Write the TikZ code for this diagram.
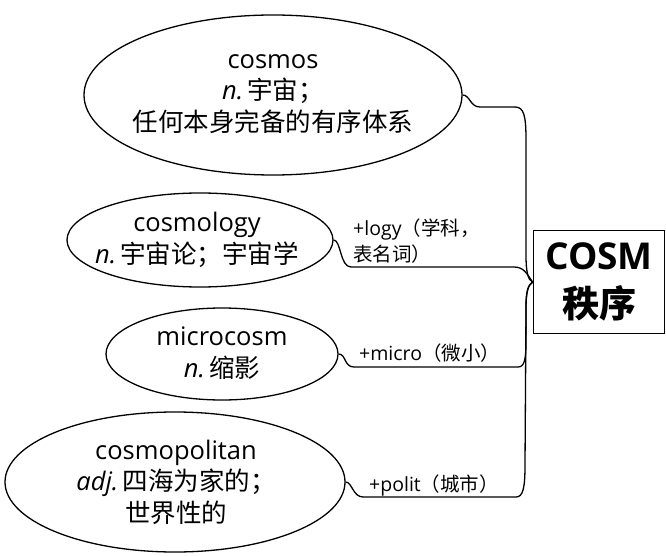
\documentclass[tikz,border=0pt]{standalone}
\usepackage{fontspec}
\usetikzlibrary{shapes.geometric}
\setmainfont{Open Sans}
\newfontfamily\cjk{Noto Sans CJK SC}
\tikzset{
  x=1pt, y=-1pt,
  ell/.style={draw, ellipse, line width=1.3pt, inner sep=0pt},
  txt/.style={align=center, inner sep=0pt, font=\fontsize{25.5}{31.5}\selectfont},
  lbl/.style={anchor=west, inner sep=0pt, font=\fontsize{19.5}{26}\selectfont, align=left},
  conn/.style={draw, line width=1.3pt},
  boxst/.style={draw, line width=1.8pt, rectangle, inner sep=0pt, minimum width=131pt, minimum height=103pt, align=center, font=\fontsize{37}{50}\selectfont\bfseries}
}
\begin{document}
\begin{tikzpicture}
\useasboundingbox (0,0) rectangle (666,556);
% central box
\node[boxst] (b) at (599,282) {COSM\\[-2pt]{\cjk 秩序}};
% ellipses
\node[ell, minimum width=378pt, minimum height=160pt] (e1) at (273,95) {};
\node[txt] (t1) at (273,94) {cosmos\\\textit{n.}\,{\cjk 宇宙；}\\{\cjk 任何本身完备的有序体系}};
\node[ell, minimum width=266pt, minimum height=94pt] (e2) at (200,240) {};
\node[txt] (t2) at (197,240) {cosmology\\\textit{n.}\,{\cjk 宇宙论；宇宙学}};
\node[ell, minimum width=232pt, minimum height=92pt] (e3) at (222,354) {};
\node[txt] (t3) at (222,353) {microcosm\\\textit{n.}\,{\cjk 缩影}};
\node[ell, minimum width=340pt, minimum height=140pt] (e4) at (175,482) {};
\node[txt] (t4) at (176,482) {cosmopolitan\\\textit{adj.}\,{\cjk 四海为家的；}\\{\cjk 世界性的}};
% labels
\node[lbl] (l1) at (353,241) {+logy{\cjk （学科，}\\{\cjk 表名词）}};
\node[lbl] (l2) at (359,353) {+micro{\cjk （微小）}};
\node[lbl] (l3) at (369,485) {+polit{\cjk （城市）}};
% connectors
\path[conn] (e1.east) .. controls (470,95) and (470,107) .. (480,107) -- (515,107)
  .. controls (524,107) and (526,116) .. (526,140) -- (526,255)
  .. controls (526,272) and (528,280) .. (b.west);
\path[conn] (e2.east) .. controls (341,240) and (340,267) .. (351,267) -- (514,267)
  .. controls (524,267) and (527,274) .. (b.west);
\path[conn] (e3.east) .. controls (346,354) and (344,367) .. (354,367) -- (518,367)
  .. controls (525,367) and (526,358) .. (526,340) -- (526,305)
  .. controls (526,292) and (528,285) .. (b.west);
\path[conn] (e4.east) .. controls (352,482) and (353,497) .. (363,497) -- (516,497)
  .. controls (523,497) and (525,488) .. (525,465) -- (526,310)
  .. controls (526,292) and (528,285) .. (b.west);
\end{tikzpicture}
\end{document}
